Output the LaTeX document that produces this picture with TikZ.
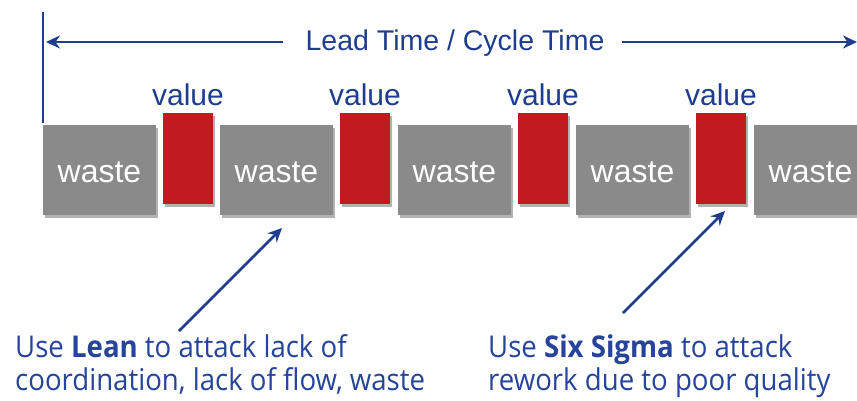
\documentclass[tikz,border=0pt]{standalone}
\usepackage{fontspec}
\setmainfont{Liberation Sans}
\newfontfamily\notefont[FakeStretch=0.92]{Open Sans}
\usetikzlibrary{arrows.meta,shadows}
\definecolor{wgrey}{HTML}{8A8A8A}
\definecolor{vred}{HTML}{C01B1F}
\definecolor{dblue}{HTML}{1F3D8F}
\definecolor{nblue}{HTML}{25449A}
\begin{document}
\begin{tikzpicture}[x=1pt,y=-1pt,
  boxshadow/.style={drop shadow={shadow xshift=1.5pt, shadow yshift=-2.5pt, opacity=0.3, fill=black}},
  wastebox/.style={fill=wgrey, minimum width=113pt, minimum height=90pt, inner sep=0pt, boxshadow},
  valbox/.style={fill=vred, minimum width=50pt, minimum height=91pt, inner sep=0pt, boxshadow},
  wastetext/.style={text=white, font=\fontsize{32}{36}\selectfont, anchor=base, inner sep=0pt},
  valtext/.style={text=dblue, font=\fontsize{30}{34}\selectfont, anchor=base, inner sep=0pt},
  bline/.style={draw=dblue, line width=2.6pt},
  arr/.style={bline, -{Stealth[length=14pt,width=13pt,inset=4.5pt]}},
  notetext/.style={text=nblue, font=\notefont\fontsize{30}{33}\selectfont, anchor=base west, inner sep=0pt}
]
\useasboundingbox (0,0) rectangle (857,400);
\fill[white] (0,0) rectangle (857,400);

% time axis
\coordinate (vt) at (43,12);
\coordinate (vb) at (43,123);
\draw[bline] (vt) -- (vb);
\node[text=dblue, font=\fontsize{28.5}{32}\selectfont, anchor=base, inner sep=0pt] (lt) at (455,50) {Lead Time / Cycle Time};
\coordinate (la) at (46,42);
\coordinate (ra) at (857,42);
\draw[arr] ([xshift=-22pt]lt.west |- la) -- (la);
\draw[arr] ([xshift=17pt]lt.east |- ra) -- (ra);

% waste boxes
\foreach \i/\x in {1/99.5,2/276.5,3/454.5,4/632.5,5/810.5}{
  \node[wastebox] (w\i) at (\x,170) {};
  \node[wastetext] (wt\i) at (\x,182) {waste};
}
% value boxes
\foreach \i/\x in {1/188,2/365,3/543,4/721}{
  \node[valbox] (v\i) at (\x,158.5) {};
  \node[valtext] (vt\i) at (\x,105) {value};
}

% pointers
\coordinate (p1s) at (179,331);
\coordinate (p1e) at (282,228);
\coordinate (p2s) at (623,313);
\coordinate (p2e) at (725,211);
\draw[arr] (p1s) -- (p1e);
\draw[arr] (p2s) -- (p2e);

% notes
\node[notetext] (nl1) at (15,357) {Use \textbf{Lean} to attack lack of};
\node[notetext] (nl2) at (15,390) {coordination, lack of flow, waste};
\node[notetext] (nr1) at (488,357) {Use \textbf{Six Sigma} to attack};
\node[notetext] (nr2) at (488,390) {rework due to poor quality};
\end{tikzpicture}
\end{document}
